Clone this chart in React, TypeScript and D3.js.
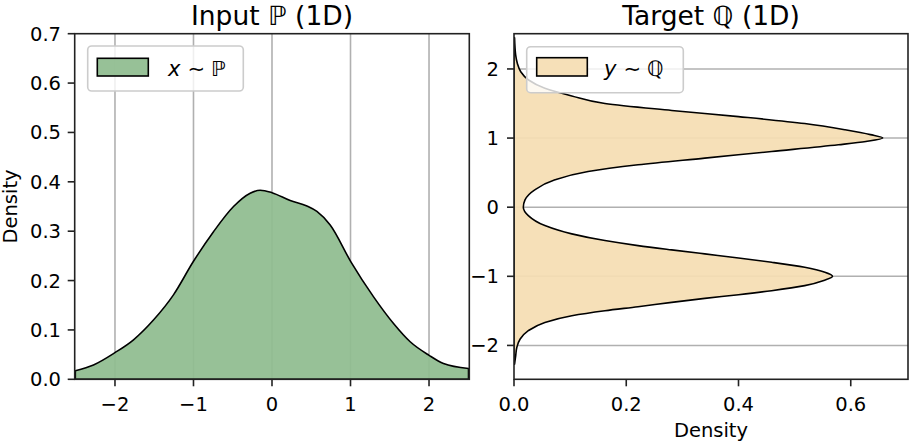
import React from "react";
import * as d3 from "d3";

// ---- Data ----
const P_X = [-2.505, -2.274, -2.0, -1.764, -1.51, -1.255, -1.004, -0.745, -0.49, -0.278, -0.15, 0, 0.232, 0.445, 0.572, 0.741, 1.005, 1.294, 1.548, 1.76, 2.0, 2.184, 2.503];
const P_D = [0.0174, 0.029, 0.054, 0.08, 0.12, 0.171, 0.238, 0.299, 0.35, 0.377, 0.383, 0.378, 0.362, 0.351, 0.34, 0.3125, 0.238, 0.167, 0.113, 0.076, 0.0486, 0.032, 0.022];

const Q_Y = [-2.27, -2.15, -2.03, -1.908, -1.787, -1.667, -1.57, -1.498, -1.44, -1.377, -1.319, -1.266, -1.208, -1.135, -1.06, -1.0, -0.942, -0.87, -0.797, -0.734, -0.676, -0.618, -0.556, -0.483, -0.386, -0.266, -0.121, 0, 0.106, 0.251, 0.396, 0.516, 0.613, 0.71, 0.806, 0.903, 0.95, 1.0, 1.05, 1.12, 1.21, 1.31, 1.4, 1.5, 1.61, 1.72, 1.84, 1.96, 2.08, 2.2, 2.45];
const Q_D = [0.001, 0.003, 0.005, 0.011, 0.0255, 0.055, 0.103, 0.162, 0.221, 0.281, 0.34, 0.4, 0.459, 0.518, 0.552, 0.5675, 0.554, 0.518, 0.459, 0.4, 0.34, 0.281, 0.221, 0.162, 0.103, 0.055, 0.0255, 0.0166, 0.0196, 0.037, 0.073, 0.132, 0.221, 0.34, 0.459, 0.578, 0.627, 0.657, 0.635, 0.59, 0.518, 0.4, 0.281, 0.162, 0.103, 0.055, 0.026, 0.012, 0.006, 0.003, 0.001];

const LEFT_XTICKS = [-2, -1, 0, 1, 2];
const LEFT_YTICKS = [0, 0.1, 0.2, 0.3, 0.4, 0.5, 0.6, 0.7];
const RIGHT_XTICKS = [0, 0.2, 0.4, 0.6];
const RIGHT_YTICKS = [-2, -1, 0, 1, 2];

const FONT = "'DejaVu Sans', sans-serif";
const TICK_FS = 19.5;
const TITLE_FS = 26.5;
const GRID = "#b0b0b0";
const AX = "#222";

const fmtMinus = (s: string) => s.replace("-", "\u2212");

export default function App() {
  const top = 33.7, bottom = 379.3;
  const xL = d3.scaleLinear().domain([-2.513, 2.513]).range([74.7, 469.3]);
  const yL = d3.scaleLinear().domain([0, 0.7]).range([bottom, top]);
  const xR = d3.scaleLinear().domain([0, 0.702]).range([514, 908]);
  const yR = d3.scaleLinear().domain([-2.49, 2.51]).range([bottom, top]);

  const pData = P_X.map((x, i) => ({ x, d: P_D[i] }));
  const qData = Q_Y.map((y, i) => ({ y, d: Q_D[i] }));

  const areaL = d3
    .area<{ x: number; d: number }>()
    .x((d) => xL(d.x))
    .y0(yL(0))
    .y1((d) => yL(d.d))
    .curve(d3.curveMonotoneX);
  const areaR = d3
    .area<{ y: number; d: number }>()
    .y((d) => yR(d.y))
    .x0(xR(0))
    .x1((d) => xR(d.d))
    .curve(d3.curveMonotoneY);

  const lx0 = xL.range()[0], lx1 = xL.range()[1];
  const rx0 = xR.range()[0], rx1 = xR.range()[1];

  return (
    <svg
      width={909}
      height={444}
      style={{ position: "absolute", left: 0, top: 0, background: "#fff" }}
      fontFamily={FONT}
    >
      <defs>
        <clipPath id="clipL">
          <rect x={lx0} y={top} width={lx1 - lx0} height={bottom - top} />
        </clipPath>
        <clipPath id="clipR">
          <rect x={rx0} y={top} width={rx1 - rx0} height={bottom - top} />
        </clipPath>
      </defs>
      <rect x={0} y={0} width={909} height={444} fill="#fff" />

      {/* ---------- Left panel ---------- */}
      {LEFT_XTICKS.map((t) => (
        <line key={"lg" + t} x1={xL(t)} x2={xL(t)} y1={top} y2={bottom} stroke={GRID} strokeWidth={1.6} />
      ))}
      <g clipPath="url(#clipL)">
        <path d={areaL(pData) || ""} fill="#8fbc8f" fillOpacity={0.93} stroke="#000" strokeWidth={1.6} strokeLinejoin="round" />
      </g>
      <rect x={lx0} y={top} width={lx1 - lx0} height={bottom - top} fill="none" stroke={AX} strokeWidth={1.6} />
      {LEFT_XTICKS.map((t) => (
        <g key={"lx" + t}>
          <line x1={xL(t)} x2={xL(t)} y1={bottom} y2={bottom + 7} stroke={AX} strokeWidth={1.6} />
          <text x={xL(t)} y={411} fontSize={TICK_FS} textAnchor="middle" fill="#000">
            {fmtMinus(d3.format("d")(t))}
          </text>
        </g>
      ))}
      {LEFT_YTICKS.map((t) => (
        <g key={"ly" + t}>
          <line x1={lx0 - 7} x2={lx0} y1={yL(t)} y2={yL(t)} stroke={AX} strokeWidth={1.6} />
          <text x={61} y={yL(t)} dy="0.36em" fontSize={TICK_FS} textAnchor="end" fill="#000">
            {d3.format(".1f")(t)}
          </text>
        </g>
      ))}
      <text x={(lx0 + lx1) / 2} y={25} fontSize={TITLE_FS} textAnchor="middle" fill="#000">
        Input <tspan fontStyle="italic" fontWeight={300}>ℙ</tspan> (1D)
      </text>
      <text transform={`translate(17,${(top + bottom) / 2}) rotate(-90)`} fontSize={TICK_FS} textAnchor="middle" fill="#000">
        Density
      </text>
      {/* legend left */}
      <rect x={87.7} y={46} width={155.6} height={45} rx={4} fill="#fff" fillOpacity={0.8} stroke="#cccccc" strokeWidth={1.6} />
      <rect x={97.3} y={58.3} width={51} height={17.7} fill="#8fbc8f" fillOpacity={0.93} stroke="#000" strokeWidth={1.6} />
      <text x={168} y={75.5} fontSize={21} fill="#000">
        <tspan fontStyle="italic">x</tspan>
        <tspan dx={7}>∼</tspan>
        <tspan dx={6} fontStyle="italic">ℙ</tspan>
      </text>

      {/* ---------- Right panel ---------- */}
      {RIGHT_YTICKS.map((t) => (
        <line key={"rg" + t} x1={rx0} x2={rx1} y1={yR(t)} y2={yR(t)} stroke={GRID} strokeWidth={1.6} />
      ))}
      <g clipPath="url(#clipR)">
        <path d={areaR(qData) || ""} fill="#f5deb3" fillOpacity={0.93} stroke="#000" strokeWidth={1.6} strokeLinejoin="round" />
      </g>
      <rect x={rx0} y={top} width={rx1 - rx0} height={bottom - top} fill="none" stroke={AX} strokeWidth={1.6} />
      {RIGHT_XTICKS.map((t) => (
        <g key={"rx" + t}>
          <line x1={xR(t)} x2={xR(t)} y1={bottom} y2={bottom + 7} stroke={AX} strokeWidth={1.6} />
          <text x={xR(t)} y={411} fontSize={TICK_FS} textAnchor="middle" fill="#000">
            {d3.format(".1f")(t)}
          </text>
        </g>
      ))}
      {RIGHT_YTICKS.map((t) => (
        <g key={"ry" + t}>
          <line x1={rx0 - 7} x2={rx0} y1={yR(t)} y2={yR(t)} stroke={AX} strokeWidth={1.6} />
          <text x={499} y={yR(t)} dy="0.36em" fontSize={TICK_FS} textAnchor="end" fill="#000">
            {fmtMinus(d3.format("d")(t))}
          </text>
        </g>
      ))}
      <text x={(rx0 + rx1) / 2} y={25} fontSize={TITLE_FS} textAnchor="middle" fill="#000">
        Target <tspan fontStyle="italic" fontWeight={300}>ℚ</tspan> (1D)
      </text>
      <text x={(rx0 + rx1) / 2} y={437} fontSize={TICK_FS} textAnchor="middle" fill="#000">
        Density
      </text>
      {/* legend right */}
      <rect x={526.7} y={46.7} width={156.6} height={46} rx={4} fill="#fff" fillOpacity={0.8} stroke="#cccccc" strokeWidth={1.6} />
      <rect x={536.7} y={57.7} width={50.6} height={18.3} fill="#f5deb3" fillOpacity={0.93} stroke="#000" strokeWidth={1.6} />
      <text x={604} y={75.5} fontSize={21} fill="#000">
        <tspan fontStyle="italic">y</tspan>
        <tspan dx={7}>∼</tspan>
        <tspan dx={6} fontStyle="italic">ℚ</tspan>
      </text>
    </svg>
  );
}
